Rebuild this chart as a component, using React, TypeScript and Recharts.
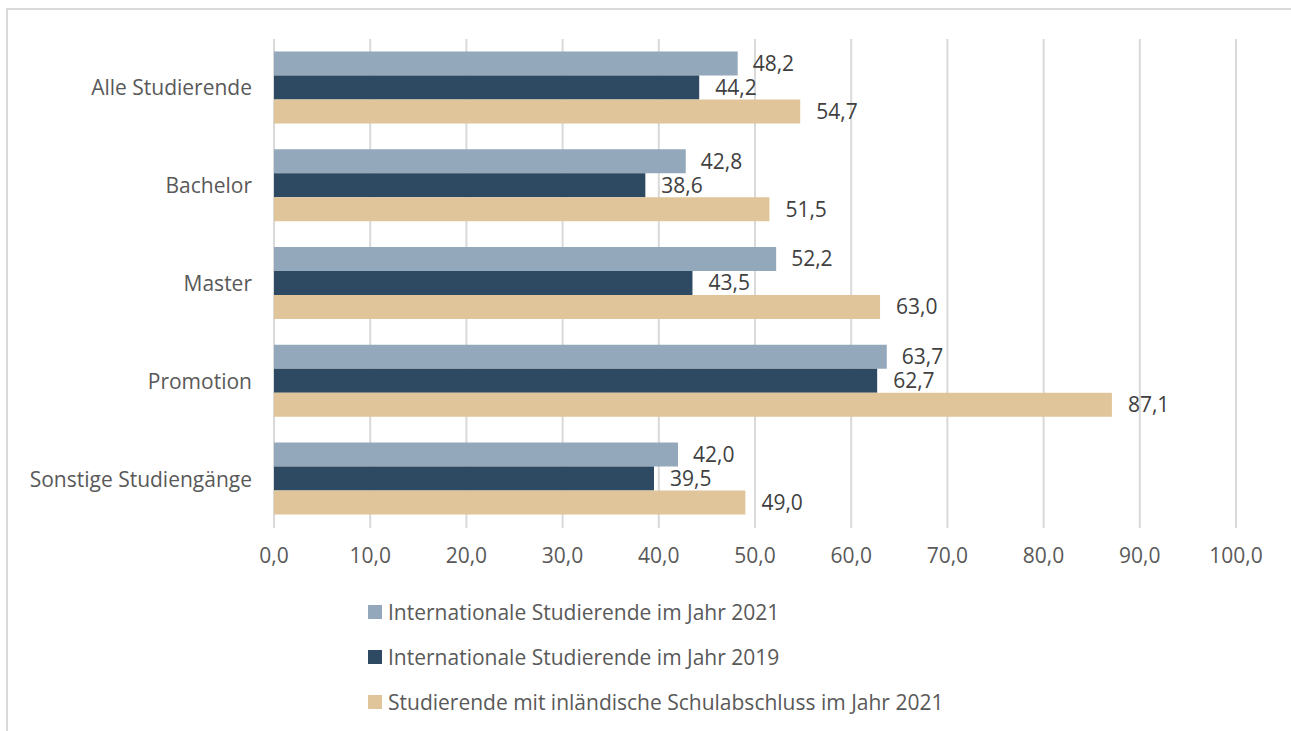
import React from "react";
import {
  BarChart,
  Bar,
  XAxis,
  YAxis,
  CartesianGrid,
  Legend,
  LabelList,
} from "recharts";

// Kategorien (Abschlussarten)
const categories = [
  "Alle Studierende",
  "Bachelor",
  "Master",
  "Promotion",
  "Sonstige Studiengänge",
];

// Werte je Reihe
const intl2021 = [48.2, 42.8, 52.2, 63.7, 42.0];
const intl2019 = [44.2, 38.6, 43.5, 62.7, 39.5];
const domestic2021 = [54.7, 51.5, 63.0, 87.1, 49.0];

const xTicks = [0, 10, 20, 30, 40, 50, 60, 70, 80, 90, 100];

const seriesNames = [
  "Internationale Studierende im Jahr 2021",
  "Internationale Studierende im Jahr 2019",
  "Studierende mit inländische Schulabschluss im Jahr 2021",
];
const seriesColors = ["#93A8BB", "#2E4A63", "#E0C59A"];

const data = categories.map((name, i) => ({
  name,
  intl2021: intl2021[i],
  intl2019: intl2019[i],
  domestic2021: domestic2021[i],
}));

const FONT = "'Open Sans', sans-serif";

const fmt = (v: number | string) => Number(v).toFixed(1).replace(".", ",");

const labelStyle = { fill: "#404040", fontSize: 21, fontFamily: FONT };

function LegendContent() {
  return (
    <div style={{ fontFamily: FONT, fontSize: 21, color: "#595959" }}>
      {seriesNames.map((n, i) => (
        <div
          key={n}
          style={{
            display: "flex",
            alignItems: "center",
            height: 45,
            whiteSpace: "nowrap",
          }}
        >
          <span
            style={{
              display: "inline-block",
              width: 14,
              height: 14,
              background: seriesColors[i],
              marginRight: 6,
            }}
          />
          <span>{n}</span>
        </div>
      ))}
    </div>
  );
}

export default function App() {
  return (
    <div
      style={{
        position: "absolute",
        left: 0,
        top: 0,
        width: 1291,
        height: 731,
        background: "#fff",
        overflow: "hidden",
      }}
    >
      <div
        style={{
          position: "absolute",
          left: 6,
          top: 8,
          width: 1300,
          height: 740,
          borderTop: "2px solid #d9d9d9",
          borderLeft: "2px solid #d9d9d9",
        }}
      />
      <div style={{ position: "absolute", left: 0, top: 0 }}>
        <BarChart
          width={1291}
          height={731}
          data={data}
          layout="vertical"
          margin={{ top: 39, right: 55, left: 0, bottom: 23 }}
          barCategoryGap="12.7%"
          barGap={0}
        >
          <CartesianGrid
            horizontal={false}
            stroke="#d9d9d9"
            strokeWidth={2}
          />
          <XAxis
            type="number"
            domain={[0, 100]}
            ticks={xTicks}
            tickFormatter={fmt}
            axisLine={false}
            tickLine={false}
            height={40}
            tickMargin={14}
            tick={{ fill: "#595959", fontSize: 21, fontFamily: FONT }}
            interval={0}
          />
          <YAxis
            type="category"
            dataKey="name"
            width={274}
            axisLine={false}
            tickLine={false}
            tickMargin={16}
            tick={{ fill: "#595959", fontSize: 21, fontFamily: FONT }}
          />
          <Legend
            verticalAlign="bottom"
            align="left"
            height={140}
            content={() => <LegendContent />}
            wrapperStyle={{ left: 368, top: 589, width: 800 }}
          />
          <Bar
            dataKey="intl2021"
            name={seriesNames[0]}
            fill={seriesColors[0]}
            isAnimationActive={false}
          >
            <LabelList
              dataKey="intl2021"
              position="right"
              offset={15}
              formatter={fmt}
              style={labelStyle}
            />
          </Bar>
          <Bar
            dataKey="intl2019"
            name={seriesNames[1]}
            fill={seriesColors[1]}
            isAnimationActive={false}
          >
            <LabelList
              dataKey="intl2019"
              position="right"
              offset={16}
              formatter={fmt}
              style={labelStyle}
            />
          </Bar>
          <Bar
            dataKey="domestic2021"
            name={seriesNames[2]}
            fill={seriesColors[2]}
            isAnimationActive={false}
          >
            <LabelList
              dataKey="domestic2021"
              position="right"
              offset={16}
              formatter={fmt}
              style={labelStyle}
            />
          </Bar>
        </BarChart>
      </div>
    </div>
  );
}
